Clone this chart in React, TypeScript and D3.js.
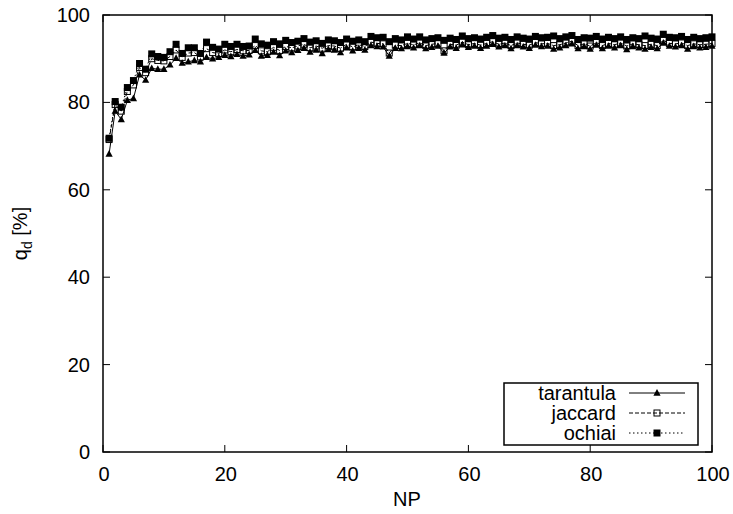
import React from "react";
import * as d3 from "d3";

const np: number[] = d3.range(1, 101);

const tarantula: number[] = [
  68.2, 78.0, 76.1, 80.5, 80.9, 86.3, 85.1, 87.8, 87.6, 87.6,
  88.6, 90.1, 89.0, 89.3, 89.6, 89.3, 90.3, 90.0, 90.3, 90.8,
  90.5, 91.0, 90.6, 90.9, 91.9, 90.6, 90.8, 91.5, 90.7, 91.8,
  91.4, 91.9, 92.4, 91.5, 92.0, 91.2, 92.1, 92.0, 91.4, 92.5,
  91.8, 92.4, 92.0, 93.0, 92.8, 92.7, 90.6, 92.4, 92.3, 92.8,
  92.5, 93.0, 92.3, 92.6, 92.9, 91.3, 92.7, 92.4, 93.2, 92.6,
  92.9, 92.4, 92.9, 93.3, 92.7, 93.0, 92.3, 93.0, 92.7, 92.4,
  93.1, 92.8, 92.9, 92.2, 92.5, 93.0, 93.4, 92.3, 92.8, 92.2,
  93.1, 92.3, 92.9, 92.5, 93.0, 92.1, 92.8, 92.5, 92.2, 92.6,
  92.3, 93.6, 92.9, 92.7, 93.0, 92.2, 92.8, 92.5, 92.6, 92.9,
];

const jaccard: number[] = [
  71.5, 79.5, 78.0, 82.5, 84.0, 88.0, 86.8, 90.0, 89.6, 89.5,
  90.5, 92.0, 90.3, 91.3, 91.4, 90.4, 92.3, 91.4, 91.2, 92.0,
  91.6, 92.1, 91.8, 91.9, 93.0, 91.8, 91.6, 92.6, 91.9, 92.8,
  92.5, 92.9, 93.3, 92.5, 92.9, 92.4, 93.0, 92.9, 92.4, 93.3,
  92.7, 93.2, 92.8, 93.8, 93.5, 93.4, 91.3, 93.1, 93.0, 93.5,
  93.2, 93.6, 93.0, 93.3, 93.5, 91.8, 93.3, 93.1, 93.8, 93.2,
  93.5, 93.1, 93.5, 93.9, 93.3, 93.6, 93.0, 93.6, 93.3, 93.1,
  93.7, 93.4, 93.5, 93.0, 93.2, 93.6, 94.0, 93.0, 93.4, 92.9,
  93.7, 93.0, 93.5, 93.2, 93.6, 92.9, 93.4, 93.2, 93.0, 93.3,
  93.0, 94.2, 93.5, 93.4, 93.6, 93.0, 93.4, 93.2, 93.3, 93.5,
];

const ochiai: number[] = [
  71.8, 80.2, 78.9, 83.4, 85.0, 88.9, 87.6, 91.1, 90.5, 90.3,
  91.6, 93.3, 91.2, 92.5, 92.5, 91.2, 93.8, 92.6, 92.2, 93.3,
  92.8, 93.3, 92.8, 92.9, 94.5, 93.4, 93.1, 93.9, 93.4, 94.2,
  93.7, 94.0, 94.6, 93.8, 94.1, 93.5, 94.3, 94.1, 93.7, 94.5,
  94.0, 94.3, 93.9, 95.1, 94.8, 94.9, 93.9, 94.6, 94.3, 95.0,
  94.5, 95.0, 94.3, 94.6, 94.8, 94.2, 94.7, 94.4, 95.2, 94.6,
  94.8, 94.5, 94.9, 95.3, 94.7, 94.9, 94.4, 95.0, 94.7, 94.5,
  95.1, 94.8, 94.9, 95.2, 94.6, 95.0, 95.3, 94.4, 94.8, 94.7,
  95.1, 94.5, 94.9, 94.6, 95.0, 94.4, 94.8, 94.6, 95.2, 94.7,
  94.5, 95.6, 94.9, 94.8, 95.1, 94.4, 94.9, 94.6, 94.8, 95.0,
];

const xTicks: number[] = [0, 20, 40, 60, 80, 100];
const yTicks: number[] = [0, 20, 40, 60, 80, 100];
const seriesNames: string[] = ["tarantula", "jaccard", "ochiai"];

const W = 733;
const H = 514;
const L = 103;
const R = 712;
const T = 15;
const B = 452;
const FONT = "'Liberation Sans', Arial, Helvetica, sans-serif";

const x = d3.scaleLinear().domain([0, 100]).range([L, R]);
const y = d3.scaleLinear().domain([0, 100]).range([B, T]);

const line = d3
  .line<[number, number]>()
  .x((d) => x(d[0]))
  .y((d) => y(d[1]));

const triPath = (cx: number, cy: number, s: number) =>
  `M${cx},${cy - s * 0.65}L${cx + s * 0.6},${cy + s * 0.45}L${cx - s * 0.6},${cy + s * 0.45}Z`;

function Marker({ kind, cx, cy }: { kind: string; cx: number; cy: number }) {
  if (kind === "tarantula") {
    return <path d={triPath(cx, cy, 6)} fill="#000" />;
  }
  if (kind === "jaccard") {
    return (
      <rect x={cx - 3} y={cy - 3} width={6} height={6} fill="none" stroke="#000" strokeWidth={1} />
    );
  }
  return <rect x={cx - 3.5} y={cy - 3.5} width={7} height={7} fill="#000" />;
}

const dashFor: Record<string, string | undefined> = {
  tarantula: undefined,
  jaccard: "4,2",
  ochiai: "1.5,2.5",
};

export default function App() {
  const data: Record<string, number[]> = { tarantula, jaccard, ochiai };
  return (
    <svg
      width={W}
      height={H}
      style={{ position: "absolute", left: 0, top: 0, background: "#fff" }}
      fontFamily={FONT}
    >
      <rect x={0} y={0} width={W} height={H} fill="#fff" />
      {/* ticks */}
      {xTicks.map((t) => (
        <g key={"xt" + t}>
          <line x1={x(t)} x2={x(t)} y1={B} y2={B - 7} stroke="#000" />
          <line x1={x(t)} x2={x(t)} y1={T} y2={T + 7} stroke="#000" />
          <text x={x(t) + 1} y={481} fontSize={20} textAnchor="middle">
            {t}
          </text>
        </g>
      ))}
      {yTicks.map((t) => (
        <g key={"yt" + t}>
          <line x1={L} x2={L + 7} y1={y(t)} y2={y(t)} stroke="#000" />
          <line x1={R} x2={R - 7} y1={y(t)} y2={y(t)} stroke="#000" />
          <text x={90} y={y(t) + 7} fontSize={20} textAnchor="end">
            {t}
          </text>
        </g>
      ))}
      {/* series */}
      {seriesNames.map((name) => {
        const pts: [number, number][] = np.map((n, i) => [n, data[name][i]]);
        return (
          <g key={name}>
            <path
              d={line(pts) || ""}
              fill="none"
              stroke="#000"
              strokeWidth={1}
              strokeDasharray={dashFor[name]}
            />
            {pts.map((p, i) => (
              <Marker key={i} kind={name} cx={x(p[0])} cy={y(p[1])} />
            ))}
          </g>
        );
      })}
      {/* frame */}
      <rect x={L} y={T} width={R - L} height={B - T} fill="none" stroke="#000" strokeWidth={1.5} />
      {/* legend */}
      <rect x={504} y={383} width={194} height={62} fill="#fff" stroke="#000" strokeWidth={1.5} />
      {seriesNames.map((name, i) => {
        const ly = 393 + i * 20;
        return (
          <g key={"lg" + name}>
            <text x={616} y={ly + 7} fontSize={20} textAnchor="end">
              {name}
            </text>
            <line
              x1={629}
              x2={685}
              y1={ly}
              y2={ly}
              stroke="#000"
              strokeWidth={1}
              strokeDasharray={dashFor[name]}
            />
            <Marker kind={name} cx={657} cy={ly} />
          </g>
        );
      })}
      {/* axis labels */}
      <text x={407} y={506} fontSize={20} textAnchor="middle">
        NP
      </text>
      <text transform={`translate(27,${(T + B) / 2}) rotate(-90)`} fontSize={20} textAnchor="middle">
        q<tspan fontSize={14} dy={5}>d</tspan>
        <tspan dy={-5}> [%]</tspan>
      </text>
    </svg>
  );
}
